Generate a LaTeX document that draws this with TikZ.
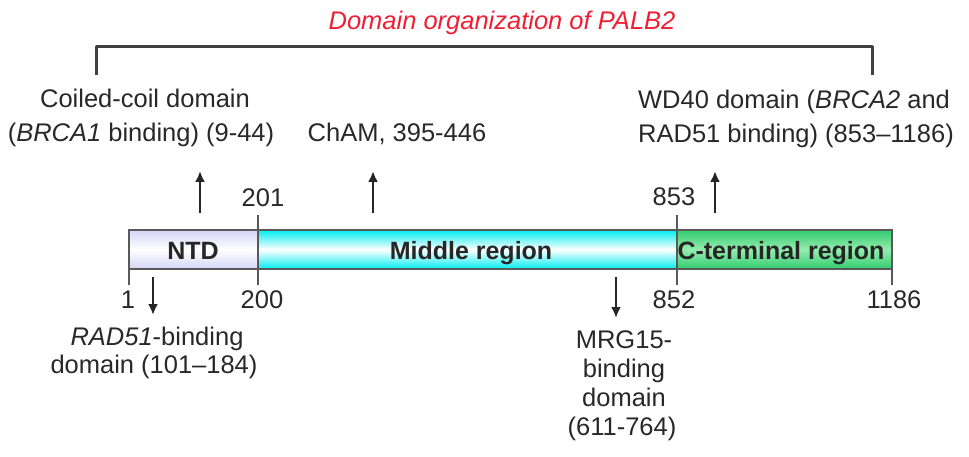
\documentclass[tikz,border=0pt]{standalone}
\usepackage{fontspec}
\setmainfont{Liberation Sans}
\usetikzlibrary{arrows.meta}
\definecolor{titlered}{RGB}{240,30,50}
\definecolor{txt}{RGB}{40,40,40}
\definecolor{lav}{RGB}{212,212,246}
\definecolor{cyanbar}{RGB}{0,236,240}
\definecolor{greenbar}{RGB}{48,204,110}
\definecolor{greenlight}{RGB}{150,236,175}
\tikzset{
  lbl/.style={anchor=base, inner sep=0pt, text=txt, font=\fontsize{25.5}{30}\selectfont},
  barlbl/.style={anchor=base, inner sep=0pt, text=black!85, font=\fontsize{25}{30}\selectfont\bfseries},
  ttl/.style={anchor=base, inner sep=0pt, text=titlered, font=\fontsize{25.5}{30}\selectfont\itshape},
  arr/.style={draw=black!85, line width=2.3pt, -{Latex[length=11pt,width=10pt]}},
  tick/.style={draw=black!65, line width=1.2pt},
  brk/.style={draw=black!75, line width=3pt, line join=round},
  barline/.style={draw=black!65, line width=1.2pt}
}
\begin{document}
\begin{tikzpicture}[x=1pt,y=-1pt]
\useasboundingbox (0,0) rectangle (969,457);
% title and bracket
\node[ttl] (title) at (502,30) {Domain organization of PALB2};
\coordinate (bl) at (96,75);
\coordinate (br) at (872,75);
\draw[brk] (bl) |- (484,47) -| (br);
% bar segments
\shade[top color=lav, bottom color=lav, middle color=white] (129,230) rectangle (258,269);
\shade[top color=cyanbar, bottom color=cyanbar, middle color=white] (258,230) rectangle (677,269);
\shade[top color=greenbar, bottom color=greenbar, middle color=greenlight] (677,230) rectangle (892,269);
\draw[barline] (129,230) rectangle (892,269);
\draw[draw=black!70, line width=1.5pt] (677,230) -- (677,269);
% ticks
\draw[tick] (258,215) -- (258,285);
\draw[tick] (677,215) -- (677,285);
\draw[tick] (129,269) -- (129,285);
\draw[tick] (892,269) -- (892,285);
% bar labels
\node[barlbl] (ntd) at (193,259) {NTD};
\node[barlbl] (mid) at (471,259) {Middle region};
\node[barlbl] (cterm) at (781,259) {C-terminal region};
% position numbers
\node[lbl] (n201) at (263,207) {201};
\node[lbl] (n853) at (674,206) {853};
\node[lbl] (n1) at (128,308) {1};
\node[lbl] (n200) at (262,308) {200};
\node[lbl] (n852) at (674,308) {852};
\node[lbl] (n1186) at (894,308) {1186};
% upper annotations
\node[lbl] (cc1) at (145,108) {Coiled-coil domain};
\node[lbl] (cc2) at (141,142) {(\textit{BRCA1} binding) (9-44)};
\node[lbl] (cham) at (397,142) {ChAM, 395-446};
\node[lbl] (wd1) at (794,109) {WD40 domain (\textit{BRCA2} and};
\node[lbl] (wd2) at (796,143) {RAD51 binding) (853–1186)};
% lower annotations
\node[lbl] (rad1) at (157,345) {\textit{RAD51}-binding};
\node[lbl] (rad2) at (154,373) {domain (101–184)};
\node[lbl] (mrg1) at (624,348) {MRG15-};
\node[lbl] (mrg2) at (624,377) {binding};
\node[lbl] (mrg3) at (624,406) {domain};
\node[lbl] (mrg4) at (622,435) {(611-764)};
% arrows
\coordinate (u1s) at (200,213); \coordinate (u1e) at (200,171);
\coordinate (u2s) at (373,213); \coordinate (u2e) at (373,171);
\coordinate (u3s) at (715,213); \coordinate (u3e) at (715,171);
\coordinate (d1s) at (153,277); \coordinate (d1e) at (153,315);
\coordinate (d2s) at (616,277); \coordinate (d2e) at (616,318);
\draw[arr] (u1s) -- (u1e);
\draw[arr] (u2s) -- (u2e);
\draw[arr] (u3s) -- (u3e);
\draw[arr] (d1s) -- (d1e);
\draw[arr] (d2s) -- (d2e);
\end{tikzpicture}
\end{document}
